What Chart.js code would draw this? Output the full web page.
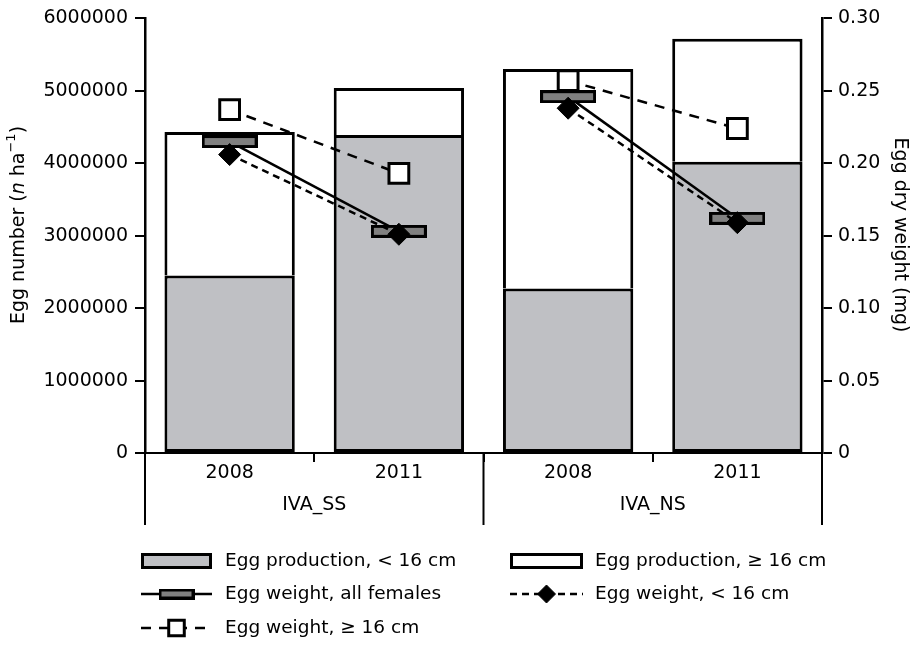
<!DOCTYPE html>
<html>
<head>
<meta charset="utf-8">
<script src="https://cdn.jsdelivr.net/npm/chart.js@4"></script>
<style>
  html, body { margin: 0; padding: 0; background: #fff; }
</style>
</head>
<body>
<canvas id="eggChart" width="920" height="645"></canvas>
<script>
// categories
const years = ['2008', '2011', '2008', '2011'];
const sites = ['IVA_SS', 'IVA_SS', 'IVA_NS', 'IVA_NS'];

// egg production (n per ha), stacked
const eggsSmall = [2450000, 4390000, 2270000, 4020000];
const eggsLarge = [1980000, 650000, 3030000, 1700000];

// egg dry weight (mg)
const weightAll = [0.215, 0.153, 0.246, 0.162];
const weightSmall = [0.206, 0.151, 0.238, 0.159];
const weightLarge = [0.237, 0.193, 0.257, 0.224];

// axis ranges
const eggMax = 6000000, eggStep = 1000000;
const weightMax = 0.30, weightStep = 0.05;

const FONT = '"DejaVu Sans", sans-serif';
const GRAY_BAR = '#bfc0c4';
const GRAY_MARK = '#808080';

Chart.defaults.font.family = FONT;
Chart.defaults.font.size = 19;
Chart.defaults.color = '#000';

// the flat grey "all females" marker
function makeBarMarker(w, h) {
    const c = document.createElement('canvas');
    c.width = w; c.height = h;
    const g = c.getContext('2d');
    g.fillStyle = '#000';
    g.fillRect(0, 0, w, h);
    g.fillStyle = GRAY_MARK;
    g.fillRect(3, 3, w - 6, h - 6);
    return c;
}

// hide the line between the two sites
const sameSite = ctx => sites[ctx.p0DataIndex] === sites[ctx.p1DataIndex] ? '#000' : 'rgba(0,0,0,0)';

const lineBase = {
    type: 'line',
    yAxisID: 'y2',
    borderColor: '#000',
    borderWidth: 2.5,
    pointBorderColor: '#000',
    fill: false,
    segment: { borderColor: sameSite }
};

// draws things Chart.js has no option for: site labels, long separators, titles, legend
const extras = {
    id: 'extras',
    afterDraw(chart) {
        const ctx = chart.ctx;
        const x = chart.scales.x;
        const area = chart.chartArea;
        const half = (x.getPixelForValue(1) - x.getPixelForValue(0)) / 2;
        const bottom = area.bottom + 72;

        ctx.save();
        ctx.strokeStyle = '#000';
        ctx.lineWidth = 2;
        // separators at group edges
        const edges = [x.left, x.right];
        for (let i = 1; i < sites.length; i++) {
            if (sites[i] !== sites[i - 1]) edges.push(x.getPixelForValue(i) - half);
        }
        edges.forEach(px => {
            ctx.beginPath();
            ctx.moveTo(px, area.bottom);
            ctx.lineTo(px, bottom);
            ctx.stroke();
        });

        // site labels
        ctx.font = '19px ' + FONT;
        ctx.fillStyle = '#000';
        ctx.textAlign = 'center';
        ctx.textBaseline = 'middle';
        const siteNames = [...new Set(sites)];
        siteNames.forEach(name => {
            const idx = sites.map((s, i) => s === name ? i : -1).filter(i => i >= 0);
            const mid = idx.reduce((a, i) => a + x.getPixelForValue(i), 0) / idx.length;
            ctx.fillText(name, mid, area.bottom + 52);
        });

        // left title with italic n and superscript
        const parts = [
            { t: 'Egg number (', f: '19px ' + FONT, dy: 0 },
            { t: 'n', f: 'italic 19px ' + FONT, dy: 0 },
            { t: ' ha', f: '19px ' + FONT, dy: 0 },
            { t: '\u22121', f: '13px ' + FONT, dy: -7 },
            { t: ')', f: '19px ' + FONT, dy: 0 }
        ];
        let total = 0;
        parts.forEach(p => { ctx.font = p.f; p.w = ctx.measureText(p.t).width; total += p.w; });
        ctx.save();
        ctx.translate(19, 225);
        ctx.rotate(-Math.PI / 2);
        ctx.textAlign = 'left';
        let cx = -total / 2;
        parts.forEach(p => { ctx.font = p.f; ctx.fillText(p.t, cx, p.dy); cx += p.w; });
        ctx.restore();

        // right title
        ctx.save();
        ctx.translate(900, 235);
        ctx.rotate(Math.PI / 2);
        ctx.font = '19px ' + FONT;
        ctx.textAlign = 'center';
        ctx.fillText('Egg dry weight (mg)', 0, 0);
        ctx.restore();

        // legend
        const order = [3, 4, 1, 0, 2];
        const cols = [{ x0: 141, x1: 212, tx: 225 }, { x0: 510, x1: 583, tx: 595 }];
        const rows = [561, 594, 628];
        order.forEach((dsIndex, k) => {
            const ds = chart.data.datasets[dsIndex];
            const col = cols[k % 2];
            const y = rows[Math.floor(k / 2)];
            const mid = (col.x0 + col.x1) / 2;
            if (ds.type === 'bar') {
                ctx.fillStyle = ds.backgroundColor;
                ctx.fillRect(col.x0, y - 8, col.x1 - col.x0, 16);
                ctx.lineWidth = 3;
                ctx.strokeStyle = '#000';
                ctx.strokeRect(col.x0 + 1.5, y - 6.5, col.x1 - col.x0 - 3, 13);
            } else {
                ctx.strokeStyle = '#000';
                ctx.lineWidth = 2.5;
                ctx.setLineDash(ds.borderDash || []);
                ctx.beginPath();
                ctx.moveTo(col.x0, y);
                ctx.lineTo(col.x1, y);
                ctx.stroke();
                ctx.setLineDash([]);
                if (ds.pointStyle instanceof HTMLCanvasElement) {
                    const m = makeBarMarker(36, 11);
                    ctx.drawImage(m, mid - 18, y - 5.5);
                } else {
                    ctx.fillStyle = ds.pointBackgroundColor;
                    ctx.lineWidth = ds.pointBorderWidth;
                    Chart.helpers.drawPoint(ctx, {
                        pointStyle: ds.pointStyle,
                        radius: ds.pointStyle === 'rect' ? 11 : 9,
                        rotation: 0,
                        borderWidth: ds.pointBorderWidth
                    }, mid, y);
                }
            }
            ctx.fillStyle = '#000';
            ctx.font = '18.5px ' + FONT;
            ctx.textAlign = 'left';
            ctx.textBaseline = 'middle';
            ctx.fillText(ds.label, col.tx, y);
        });
        ctx.restore();
    }
};

new Chart(document.getElementById('eggChart'), {
    data: {
        labels: years,
        datasets: [
            Object.assign({}, lineBase, {
                label: 'Egg weight, < 16 cm',
                data: weightSmall,
                borderDash: [7, 5],
                pointStyle: 'rectRot',
                pointRadius: 11,
                pointBackgroundColor: '#000',
                pointBorderWidth: 1,
                order: 1
            }),
            Object.assign({}, lineBase, {
                label: 'Egg weight, all females',
                data: weightAll,
                pointStyle: makeBarMarker(56, 13),
                pointBackgroundColor: GRAY_MARK,
                pointBorderWidth: 3,
                order: 2
            }),
            Object.assign({}, lineBase, {
                label: 'Egg weight, \u2265 16 cm',
                data: weightLarge,
                borderDash: [10, 8],
                pointStyle: 'rect',
                pointRadius: 14,
                pointBackgroundColor: '#fff',
                pointBorderWidth: 3,
                order: 3
            }),
            {
                type: 'bar',
                label: 'Egg production, < 16 cm',
                data: eggsSmall,
                backgroundColor: GRAY_BAR,
                borderColor: '#000',
                borderWidth: 3,
                borderSkipped: false,
                barPercentage: 0.77,
                categoryPercentage: 1,
                order: 10
            },
            {
                type: 'bar',
                label: 'Egg production, \u2265 16 cm',
                data: eggsLarge,
                backgroundColor: '#fff',
                borderColor: '#000',
                borderWidth: 3,
                borderSkipped: 'start',
                barPercentage: 0.77,
                categoryPercentage: 1,
                order: 10
            }
        ]
    },
    options: {
        responsive: false,
        animation: false,
        devicePixelRatio: 1,
        layout: { padding: { left: 0, right: 0, top: 17, bottom: 120 } },
        plugins: {
            legend: { display: false },
            tooltip: { enabled: false }
        },
        scales: {
            x: {
                stacked: true,
                offset: true,
                grid: { offset: true, drawOnChartArea: false, tickLength: 9, color: '#000', lineWidth: 2 },
                border: { display: true, color: '#000', width: 2 },
                ticks: { padding: 0 },
                afterFit: s => { s.height = 72; }
            },
            y: {
                stacked: true,
                position: 'left',
                min: 0,
                max: eggMax,
                grid: { drawOnChartArea: false, tickLength: 10, color: '#000', lineWidth: 2 },
                border: { display: true, color: '#000', width: 2.5 },
                ticks: { stepSize: eggStep, padding: 7, callback: v => String(v) },
                afterFit: s => { s.width = 145; }
            },
            y2: {
                position: 'right',
                min: 0,
                max: weightMax,
                grid: { drawOnChartArea: false, tickLength: 10, color: '#000', lineWidth: 2 },
                border: { display: true, color: '#000', width: 2.5 },
                ticks: { stepSize: weightStep, padding: 6, callback: v => v === 0 ? '0' : v.toFixed(2) },
                afterFit: s => { s.width = 98; }
            }
        }
    },
    plugins: [extras]
});
</script>
</body>
</html>
